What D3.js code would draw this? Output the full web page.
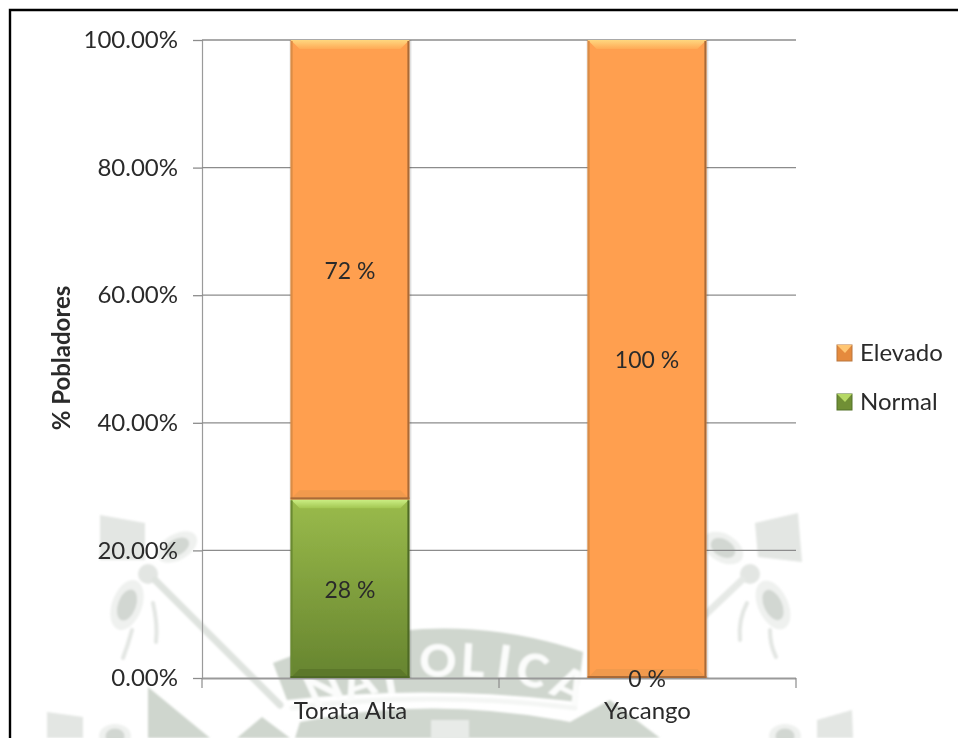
<!DOCTYPE html>
<html><head><meta charset="utf-8">
<script src="https://cdn.jsdelivr.net/npm/d3@7"></script>
<style>html,body{margin:0;padding:0;background:#fff;overflow:hidden}svg{display:block}
text{font-family:Lato,"Open Sans",sans-serif;fill:#2b2b2b}</style></head>
<body><div id="c"></div>
<script>
const categories = ["Torata Alta", "Yacango"];
const normalValues = [28, 0];
const elevadoValues = [72, 100];
const normalLabels = ["28 %", "0 %"];
const elevadoLabels = ["72 %", "100 %"];
const seriesNames = ["Elevado", "Normal"];
const yTicks = [0, 20, 40, 60, 80, 100];
const axisTitle = "% Pobladores";

const W = 958, H = 738;
const svg = d3.select("#c").append("svg").attr("width", W).attr("height", H);
const defs = svg.append("defs");
const grad = (id, a, b) => {
  const g = defs.append("linearGradient").attr("id", id).attr("x1", 0).attr("y1", 0).attr("x2", 0).attr("y2", 1);
  g.append("stop").attr("offset", 0).attr("stop-color", a);
  g.append("stop").attr("offset", 1).attr("stop-color", b);
};
grad("gGreen", "#9abb4b", "#66842f");
grad("gOrange", "#ff9f4f", "#ff9f4f");
grad("gTopO", "#ffd77f", "#ffaa56");
grad("gTopG", "#cdf085", "#a2c652");
defs.append("filter").attr("id", "soft").append("feGaussianBlur").attr("stdDeviation", 0.45);
defs.append("filter").attr("id", "wm").append("feGaussianBlur").attr("stdDeviation", 1.2);

// faint watermark behind the chart
const wm = svg.append("g").attr("filter", "url(#wm)");
const SEAL = "#cfd6ce", FAINT = "#e3e6e3", INNER = "#d2d7d2", RING = "#eff1ef";
const poly = (pts, c) => wm.append("polygon").attr("points", pts).attr("fill", c || FAINT);
const ring = (x, y, rx, ry, rot) => {
  const t = `rotate(${rot} ${x} ${y})`;
  wm.append("ellipse").attr("cx", x).attr("cy", y).attr("rx", rx).attr("ry", ry).attr("transform", t).attr("fill", RING);
  wm.append("ellipse").attr("cx", x).attr("cy", y).attr("rx", rx * 0.6).attr("ry", ry * 0.62).attr("transform", t).attr("fill", INNER);
};
const stroke = (d, w, c) => wm.append("path").attr("d", d).attr("fill", "none").attr("stroke", c || FAINT).attr("stroke-width", w).attr("stroke-linecap", "round");
poly("100,515 145,523 145,560 100,560");
poly("755,523 798,513 802,562 758,557");
ring(177, 547, 22, 13, -30); ring(127, 605, 15, 26, 20);
ring(723, 548, 22, 14, 30); ring(773, 605, 15, 26, -25);
wm.append("circle").attr("cx", 148).attr("cy", 574).attr("r", 10).attr("fill", FAINT);
wm.append("circle").attr("cx", 750).attr("cy", 574).attr("r", 10).attr("fill", FAINT);
stroke("M155 580 L280 705", 7, "#dfe3df");
stroke("M742 580 L705 615", 7, "#e6e9e6");
stroke("M153 603 Q158 625 156 642", 4);
stroke("M132 630 Q128 645 123 658", 4);
stroke("M747 603 Q738 620 740 640", 4);
stroke("M770 630 Q770 645 776 657", 4);
// seal: arched band and lower body
wm.append("path").attr("fill", SEAL)
  .attr("d", "M273 663 Q430 600 583 652 L577 702 Q430 684 287 700 Z");
wm.append("path").attr("fill", SEAL)
  .attr("d", "M237 738 L262 717 L290 738 Z M295 738 L300 722 Q430 695 570 722 L610 700 L660 738 Z");
poly("148,687 210,738 148,738", SEAL);
stroke("M292 708 Q430 690 575 708", 5, "#f4f6f4");
wm.append("rect").attr("x", 431).attr("y", 720).attr("width", 38).attr("height", 20).attr("fill", "#e8ebe8");
poly("47,712 83,717 83,738 47,738");
poly("817,720 852,710 853,738 817,738");
ring(115, 736, 16, 12, 0);
ring(785, 736, 16, 12, 0);
const wmLetters = ["N", "A", "T", "O", "L", "I", "C", "A"];
const wmX = [330, 363, 392, 438, 472, 502, 528, 563];
const wmY = [702, 697, 693, 677, 677, 678, 686, 700];
const wmR = [-25, -18, -10, 0, 3, 8, 15, 25];
wmLetters.forEach((l, i) => {
  wm.append("text").attr("transform", `translate(${wmX[i]},${wmY[i]}) rotate(${wmR[i]})`)
    .attr("text-anchor", "middle").attr("font-size", 46).attr("font-weight", 900).style("fill", "#fbfcfb").text(l);
});

// frame: top and left edges of the pasted picture
svg.append("path").attr("d", "M10 738 V10 H958").attr("fill", "none").attr("stroke", "#000").attr("stroke-width", 2.4);

const x = d3.scaleBand().domain(categories).range([202, 796]).paddingInner(0).paddingOuter(0);
const y = d3.scaleLinear().domain([0, 100]).range([678, 40]);
const barW = x.bandwidth() * 0.4;

const chart = svg.append("g").attr("filter", "url(#soft)");

// gridlines and value axis
const yAxis = d3.axisLeft(y).tickValues(yTicks).tickSize(9).tickPadding(15).tickFormat(d => d3.format(".2f")(d) + "%");
const ya = chart.append("g").attr("transform", "translate(202,0)").call(yAxis);
ya.select(".domain").attr("stroke", "#9a9a9a").attr("stroke-width", 1.2).attr("d", "M0.5,40V678");
ya.selectAll(".tick line").attr("stroke", "#8c8c8c").attr("stroke-width", 1.3);
ya.selectAll(".tick text").attr("font-size", 24).style("font-family", "Lato").style("fill", "#2b2b2b");
chart.append("g").selectAll("line").data(yTicks.filter(d => d > 0)).join("line")
  .attr("x1", 202).attr("x2", 796).attr("y1", d => y(d)).attr("y2", d => y(d))
  .attr("stroke", "#8c8c8c").attr("stroke-width", 1.3);

// category axis
const xAxis = d3.axisBottom(x).tickSize(0).tickPadding(27);
const xa = chart.append("g").attr("transform", "translate(0,678)").call(xAxis);
xa.select(".domain").attr("stroke", "#9a9a9a").attr("stroke-width", 2).attr("d", "M202,0.5H796");
xa.selectAll(".tick text").attr("font-size", 24).attr("dy", "0.6em").style("font-family", "Lato").style("fill", "#2b2b2b");
chart.append("g").selectAll("line").data([202, 499, 796]).join("line")
  .attr("x1", d => d).attr("x2", d => d).attr("y1", 678).attr("y2", 688)
  .attr("stroke", "#8c8c8c").attr("stroke-width", 1.2);

// beveled bar segment
function bevelBar(g, x0, w, y0, y1, s) {
  if (y1 - y0 < 1) return;
  const b = 9;
  const p = pts => g.append("polygon").attr("points", pts.map(q => q.join(",")).join(" "));
  g.append("rect").attr("x", x0 - 1).attr("y", y0).attr("width", w + 3).attr("height", y1 - y0).attr("fill", "#000").attr("opacity", 0.12);
  g.append("rect").attr("x", x0).attr("y", y0).attr("width", w).attr("height", y1 - y0).attr("fill", s.fill);
  p([[x0, y0], [x0 + w, y0], [x0 + w - b, y0 + b], [x0 + b, y0 + b]]).attr("fill", s.top);
  p([[x0, y1], [x0 + w, y1], [x0 + w - b, y1 - b], [x0 + b, y1 - b]]).attr("fill", s.bottom);
  g.append("rect").attr("x", x0).attr("y", y0 + 1).attr("width", 2).attr("height", y1 - y0 - 1).attr("fill", s.left);
  g.append("rect").attr("x", x0 + w - 2).attr("y", y0 + 1).attr("width", 2).attr("height", y1 - y0 - 1).attr("fill", s.right);
  g.append("rect").attr("x", x0).attr("y", y1 - 2).attr("width", w).attr("height", 2).attr("fill", s.right);
}
const greenStyle = { fill: "url(#gGreen)", top: "url(#gTopG)", bottom: "#5c7829", left: "#6b8a33", right: "#4f6b25" };
const orangeStyle = { fill: "url(#gOrange)", top: "url(#gTopO)", bottom: "#f19a4e", left: "#d98c47", right: "#a96b38" };
const bars = chart.append("g");
categories.forEach((c, i) => {
  const x0 = x(c) + (x.bandwidth() - barW) / 2 - 0.5;
  const n = normalValues[i], e = elevadoValues[i];
  const g = bars.append("g");
  bevelBar(g, x0, barW, y(n), y(0), greenStyle);
  bevelBar(g, x0, barW, y(n + e), y(n), orangeStyle);
});

// data labels
const labels = chart.append("g").attr("text-anchor", "middle").attr("font-size", 23);
categories.forEach((c, i) => {
  const cx = x(c) + x.bandwidth() / 2 - 0.5;
  const n = normalValues[i], e = elevadoValues[i];
  labels.append("text").attr("x", cx).attr("y", y(n / 2) + 9).text(normalLabels[i]);
  labels.append("text").attr("x", cx).attr("y", y(n + e / 2) + 9).text(elevadoLabels[i]);
});

// axis title
chart.append("text").attr("transform", "translate(70,358) rotate(-90)").attr("text-anchor", "middle")
  .attr("font-size", 24).attr("font-weight", 700).text(axisTitle);

// legend
const legendColors = { Elevado: ["#ffc673", "#e58a3e", "#b9763c"], Normal: ["#b5d865", "#6f8f35", "#55702a"] };
const lg = chart.append("g");
seriesNames.forEach((name, i) => {
  const ly = 345 + i * 49, [t, m, d] = legendColors[name];
  lg.append("rect").attr("x", 837).attr("y", ly).attr("width", 15).attr("height", 16).attr("fill", m).attr("stroke", d).attr("stroke-width", 1);
  lg.append("polygon").attr("points", `837,${ly} 852,${ly} 845,${ly + 8}`).attr("fill", t);
  lg.append("text").attr("x", 860).attr("y", ly + 16).attr("font-size", 24).text(name);
});
</script></body></html>
